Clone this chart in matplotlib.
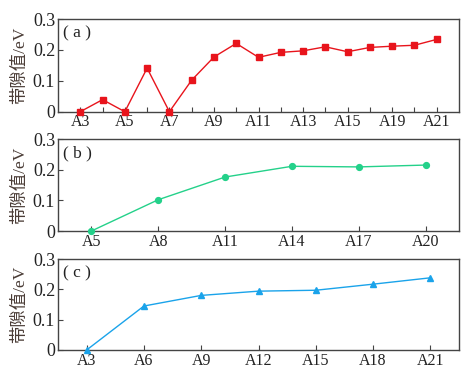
import matplotlib

matplotlib.use("Agg")
import matplotlib.pyplot as plt

# panel (a)
cats_a = ["A3", "A4", "A5", "A6", "A7", "A8", "A9", "A10", "A11", "A12",
          "A13", "A14", "A15", "A17", "A19", "A20", "A21"]
vals_a = [0.0, 0.039, 0.0, 0.141, 0.0, 0.102, 0.177, 0.221, 0.176, 0.192,
          0.197, 0.210, 0.194, 0.208, 0.212, 0.215, 0.234]

# panel (b)
cats_b = ["A5", "A8", "A11", "A14", "A17", "A20"]
vals_b = [0.0, 0.102, 0.176, 0.211, 0.209, 0.215]

# panel (c)
cats_c = ["A3", "A6", "A9", "A12", "A15", "A18", "A21"]
vals_c = [0.0, 0.145, 0.180, 0.194, 0.197, 0.217, 0.238]

W, H = 476, 375
fig = plt.figure(figsize=(W / 100, H / 100), dpi=100)

serif = ["Liberation Serif", "Noto Sans CJK SC"]


def panel(top, bottom, cats, vals, color, marker, ms, tag, xpad, every):
    left, right = 58, 459
    ax = fig.add_axes([left / W, 1 - bottom / H, (right - left) / W, (bottom - top) / H])
    x = list(range(len(cats)))
    ax.plot(x, vals, color=color, marker=marker, markersize=ms, linewidth=1.0, clip_on=False, zorder=3)
    ax.set_xlim(-xpad, len(cats) - 1 + xpad)
    ax.set_ylim(0, 0.3)
    ax.set_xticks(x)
    ax.set_xticklabels([c if i % every == 0 else "" for i, c in enumerate(cats)],
                       family=serif, fontsize=11.5, color="#222222")
    ax.set_yticks([0, 0.1, 0.2, 0.3])
    ax.set_yticklabels(["0", "0.1", "0.2", "0.3"], family=serif, fontsize=13, color="#222222")
    ax.tick_params(direction="in", length=3.5, width=0.8, color="#444444", pad=2)
    for s in ax.spines.values():
        s.set_color("#444444")
        s.set_linewidth(1.0)
    ax.set_ylabel("带隙值/eV", family=serif, fontsize=12.5, color="#4a3c36")
    ax.yaxis.set_label_coords(-0.075, 0.5)
    ax.text(0.012, 0.8, "( " + tag + " )", transform=ax.transAxes, family=serif, fontsize=12.5, color="#222222")
    return ax


panel(19, 111.7, cats_a, vals_a, "#e8141c", "s", 3.8, "a", 1.0, 2)
panel(139, 231, cats_b, vals_b, "#24d18a", "o", 4.2, "b", 0.5, 1)
panel(259, 350, cats_c, vals_c, "#1aa3ea", "^", 4.8, "c", 0.5, 1)

fig.savefig("out.png", dpi=100)
